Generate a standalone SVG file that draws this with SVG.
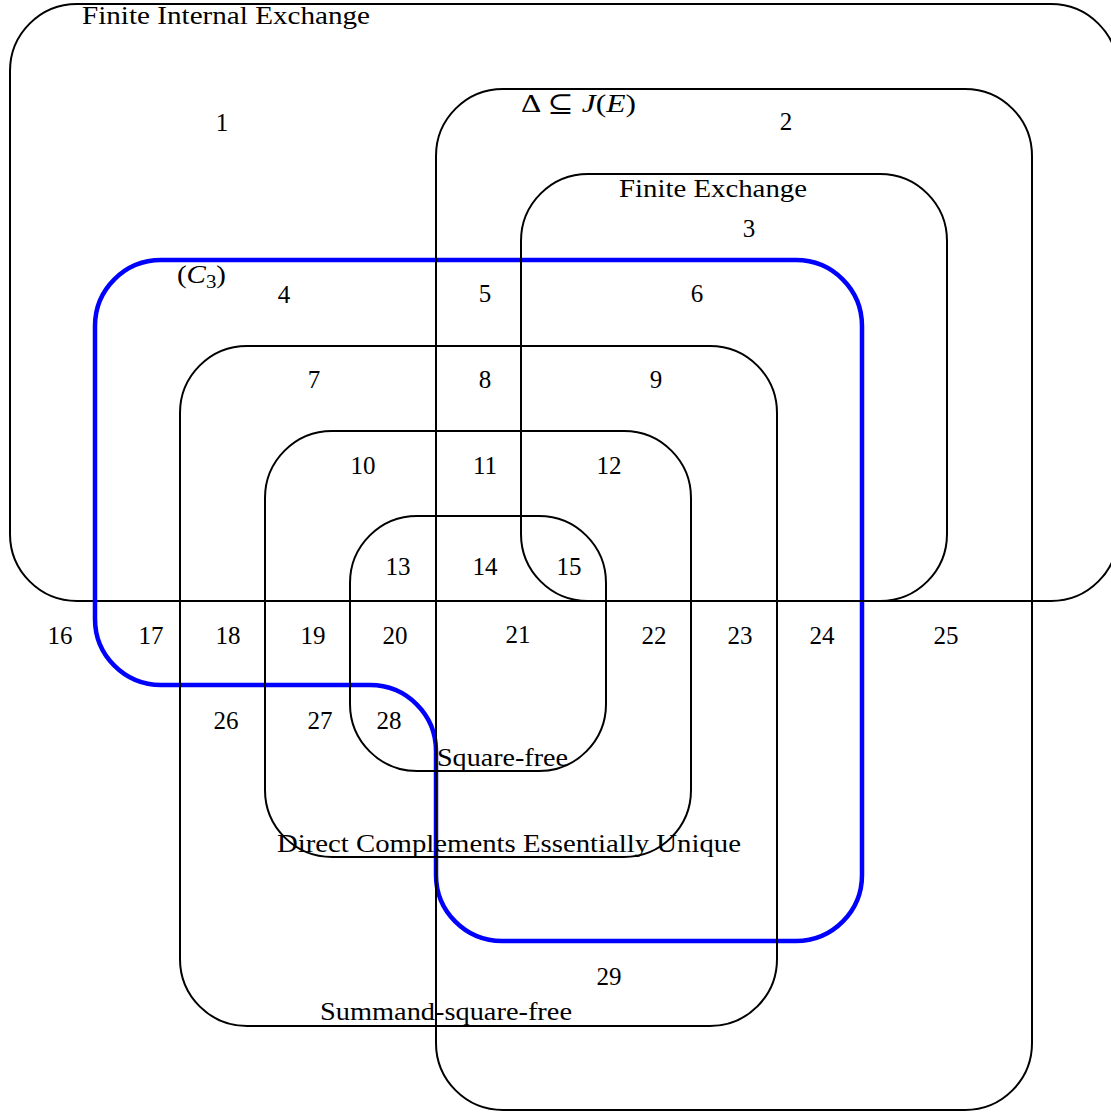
<svg xmlns="http://www.w3.org/2000/svg" width="1111" height="1112" viewBox="0 0 1111 1112">
  <style>
    .set { fill: none; stroke: #000; stroke-width: 2; }
    .c3 { fill: none; stroke: #0000ff; stroke-width: 4.5; }
    text { font-family: "Liberation Serif", "DejaVu Serif", serif; font-size: 25px; fill: #000; }
    .num { text-anchor: middle; }
    .it { font-style: italic; }
  </style>
  <rect width="1111" height="1112" fill="#fff"/>

  <!-- outer set, drawn beneath the (C3) outline -->
  <g id="finite-internal-exchange">
    <rect class="set" x="10" y="4" width="1108" height="597" rx="67" ry="67"/>
    <text x="82" y="24" textLength="288" lengthAdjust="spacingAndGlyphs">Finite Internal Exchange</text>
  </g>

  <g id="c3">
    <path class="c3" d="M 161,260 H 796 A 66,66 0 0 1 862,326 V 875 A 66,66 0 0 1 796,941 H 502 A 66,66 0 0 1 436,875 V 751 A 66,66 0 0 0 370,685 H 161 A 66,66 0 0 1 95,619 V 326 A 66,66 0 0 1 161,260 Z"/>
    <text x="177" y="283" textLength="49" lengthAdjust="spacingAndGlyphs">(<tspan class="it">C</tspan><tspan font-size="18" dy="5">3</tspan><tspan dy="-5">)</tspan></text>
  </g>

  <g id="delta-in-jacobson">
    <rect class="set" x="436" y="89" width="596" height="1021" rx="67" ry="67"/>
    <text x="521" y="112" textLength="115" lengthAdjust="spacingAndGlyphs">Δ ⊆ <tspan class="it">J</tspan>(<tspan class="it">E</tspan>)</text>
  </g>

  <g id="finite-exchange">
    <rect class="set" x="521" y="174" width="426" height="427" rx="67" ry="67"/>
    <text x="619" y="197" textLength="188" lengthAdjust="spacingAndGlyphs">Finite Exchange</text>
  </g>

  <g id="summand-square-free">
    <rect class="set" x="180" y="346" width="597" height="680" rx="67" ry="67"/>
    <text x="320" y="1020" textLength="252" lengthAdjust="spacingAndGlyphs">Summand-square-free</text>
  </g>

  <g id="direct-complements-essentially-unique">
    <rect class="set" x="265" y="431" width="426" height="426" rx="67" ry="67"/>
    <text x="277" y="852" textLength="464" lengthAdjust="spacingAndGlyphs">Direct Complements Essentially Unique</text>
  </g>

  <g id="square-free">
    <rect class="set" x="350" y="516" width="256" height="255" rx="67" ry="67"/>
    <text x="437" y="766" textLength="131" lengthAdjust="spacingAndGlyphs">Square-free</text>
  </g>

  <!-- region numbers -->
  <g id="regions">
    <text class="num" x="222" y="131">1</text>
    <text class="num" x="786" y="130">2</text>
    <text class="num" x="749" y="237">3</text>
    <text class="num" x="284" y="303">4</text>
    <text class="num" x="485" y="302">5</text>
    <text class="num" x="697" y="302">6</text>
    <text class="num" x="314" y="388">7</text>
    <text class="num" x="485" y="388">8</text>
    <text class="num" x="656" y="388">9</text>
    <text class="num" x="363" y="474">10</text>
    <text class="num" x="485" y="474">11</text>
    <text class="num" x="609" y="474">12</text>
    <text class="num" x="398" y="575">13</text>
    <text class="num" x="485" y="575">14</text>
    <text class="num" x="569" y="575">15</text>
    <text class="num" x="60" y="644">16</text>
    <text class="num" x="151" y="644">17</text>
    <text class="num" x="228" y="644">18</text>
    <text class="num" x="313" y="644">19</text>
    <text class="num" x="395" y="644">20</text>
    <text class="num" x="518" y="643">21</text>
    <text class="num" x="654" y="644">22</text>
    <text class="num" x="740" y="644">23</text>
    <text class="num" x="822" y="644">24</text>
    <text class="num" x="946" y="644">25</text>
    <text class="num" x="226" y="729">26</text>
    <text class="num" x="320" y="729">27</text>
    <text class="num" x="389" y="729">28</text>
    <text class="num" x="609" y="985">29</text>
  </g>
</svg>
